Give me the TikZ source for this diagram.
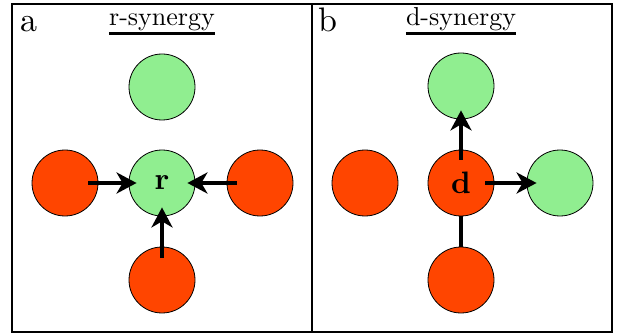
\documentclass[tikz,border=0pt]{standalone}
\usepackage{fontspec}
\setmainfont{lmroman10}[Extension=.otf,UprightFont=*-regular,BoldFont=*-bold]
\usetikzlibrary{arrows.meta}
\definecolor{rd}{HTML}{FF4500}
\definecolor{gr}{HTML}{90EE90}
\tikzset{
  ball/.style={circle,draw=black,line width=0.8pt,minimum size=66pt,inner sep=0pt},
  redball/.style={ball,fill=rd},
  greenball/.style={ball,fill=gr},
  arr/.style={line width=4pt,-{Stealth[length=20pt,width=21pt,inset=6pt]}},
  bond/.style={line width=4pt},
  lbl/.style={font=\fontsize{31}{36}\selectfont\bfseries},
  ttl/.style={font=\fontsize{26}{30}\selectfont,inner sep=0pt},
  panel/.style={font=\fontsize{34}{40}\selectfont,inner sep=0pt},
  uline/.style={line width=3pt}
}
\begin{document}
\begin{tikzpicture}[x=1pt,y=-1pt]
\useasboundingbox (0,0) rectangle (619,334);
\draw[line width=2pt] (12,4) rectangle (612,332);
\draw[line width=2pt] (312,4) -- (312,332);
% panel a
\node[panel,anchor=base west] (la) at (20,32) {a};
\node[ttl,anchor=base] (ta) at (162,26) {r-synergy};
\draw[uline] (ta.west |- 0,34) -- (ta.east |- 0,34);
\node[greenball] (a1) at (162,87) {};
\node[greenball,lbl] (ac) at (162,183) {r};
\node[redball] (al) at (65,183) {};
\node[redball] (ar) at (260,183) {};
\node[redball] (ab) at (162,280) {};
\draw[arr] ([xshift=23pt]al.center) -- ([xshift=8pt]ac.west);
\draw[arr] ([xshift=-23pt]ar.center) -- ([xshift=-8pt]ac.east);
\draw[arr] ([yshift=22pt]ab.center) -- ([yshift=9pt]ac.south);
% panel b
\node[panel,anchor=base west] (lb) at (318,32) {b};
\node[ttl,anchor=base] (tb) at (461,26) {d-synergy};
\draw[uline] (tb.west |- 0,34) -- (tb.east |- 0,34);
\node[greenball] (b1) at (461,86) {};
\node[redball,lbl] (bc) at (461,183) {d};
\node[redball] (bl) at (365,183) {};
\node[greenball] (br) at (560,183) {};
\node[redball] (bb) at (461,280) {};
\draw[arr] ([yshift=23pt]bc.center) -- ([yshift=9pt]b1.south);
\draw[arr] ([xshift=24pt]bc.center) -- ([xshift=10pt]br.west);
\draw[bond] (bc.south) -- (bb.north);
\end{tikzpicture}
\end{document}
